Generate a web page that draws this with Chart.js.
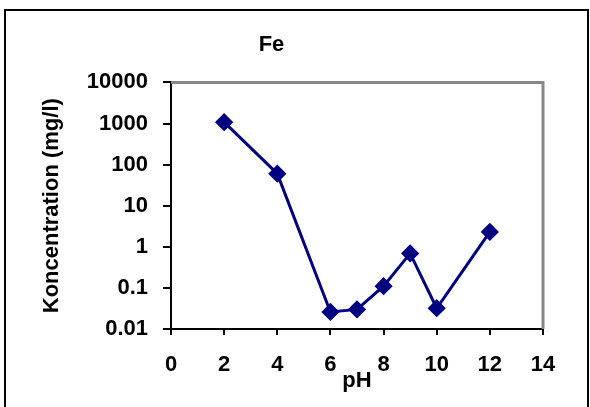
<!DOCTYPE html>
<html>
<head>
<meta charset="utf-8">
<script src="https://cdn.jsdelivr.net/npm/chart.js@4/dist/chart.umd.min.js"></script>
<style>
  html, body { margin: 0; padding: 0; background: #fff; }
  canvas { display: block; }
</style>
</head>
<body>
<canvas id="FeChart" width="590" height="407"></canvas>
<script>
// values
const pH = [2, 4, 6, 7, 8, 9, 10, 12];
const feConc = [1080, 60, 0.026, 0.03, 0.11, 0.69, 0.032, 2.3];
const yTicks = [0.01, 0.1, 1, 10, 100, 1000, 10000];
const xMin = 0, xMax = 14, xStep = 2;

const FONT = '"Liberation Sans", Arial, sans-serif';
Chart.defaults.color = '#000';
Chart.defaults.font.family = FONT;

// outer frame + grey top/right edge of the plot area
const frame = {
  id: 'frame',
  beforeDatasetsDraw(chart) {
    const { ctx, chartArea: a } = chart;
    ctx.save();
    ctx.strokeStyle = '#888';
    ctx.lineWidth = 3;
    ctx.beginPath();
    ctx.moveTo(a.left, a.top);
    ctx.lineTo(a.right, a.top);
    ctx.lineTo(a.right, a.bottom);
    ctx.stroke();
    ctx.restore();
  },
  afterDraw(chart) {
    const ctx = chart.ctx;
    ctx.save();
    ctx.strokeStyle = '#000';
    ctx.lineWidth = 2;
    ctx.strokeRect(5, 10, 583, 420);
    ctx.restore();
  }
};

const ctx = document.getElementById('FeChart').getContext('2d');

new Chart(ctx, {
  type: 'line',
  data: {
    datasets: [{
      label: 'Fe',
      data: pH.map((x, i) => ({ x: x, y: feConc[i] })),
      borderColor: '#000080',
      backgroundColor: '#000080',
      borderWidth: 3,
      pointStyle: 'rectRot',
      pointRadius: 7,
      pointHoverRadius: 7,
      tension: 0
    }]
  },
  options: {
    responsive: false,
    animation: false,
    layout: { padding: { left: 0, right: 47, top: 0, bottom: 0 } },
    plugins: {
      legend: { display: false },
      tooltip: { enabled: false },
      title: {
        display: true,
        text: 'Fe',
        font: { size: 22, weight: 'bold' },
        padding: { top: 32, bottom: 24 }
      }
    },
    scales: {
      x: {
        type: 'linear',
        min: xMin,
        max: xMax,
        ticks: { stepSize: xStep, padding: 17, font: { size: 22, weight: 'bold' } },
        grid: { drawOnChartArea: false, tickLength: 6, color: '#000', lineWidth: 2 },
        border: { color: '#000', width: 2 },
        title: {
          display: true,
          text: 'pH',
          font: { size: 22, weight: 'bold' },
          padding: { top: 0, bottom: 13 }
        },
        afterFit(scale) {
          scale.height = 78;
          scale.paddingLeft = 0;
          scale.paddingRight = 0;
        }
      },
      y: {
        type: 'logarithmic',
        min: yTicks[0],
        max: yTicks[yTicks.length - 1],
        afterBuildTicks(scale) {
          scale.ticks = yTicks.map(v => ({ value: v }));
        },
        ticks: {
          padding: 15,
          font: { size: 22, weight: 'bold' },
          callback: v => String(v)
        },
        grid: { drawOnChartArea: false, tickLength: 8, color: '#000', lineWidth: 2 },
        border: { color: '#000', width: 2 },
        title: {
          display: true,
          text: 'Koncentration (mg/l)',
          font: { size: 22, weight: 'bold' },
          padding: { top: 39, bottom: 0 }
        },
        afterFit(scale) {
          scale.width = 171;
          scale.paddingTop = 0;
          scale.paddingBottom = 0;
        }
      }
    }
  },
  plugins: [frame]
});
</script>
</body>
</html>
